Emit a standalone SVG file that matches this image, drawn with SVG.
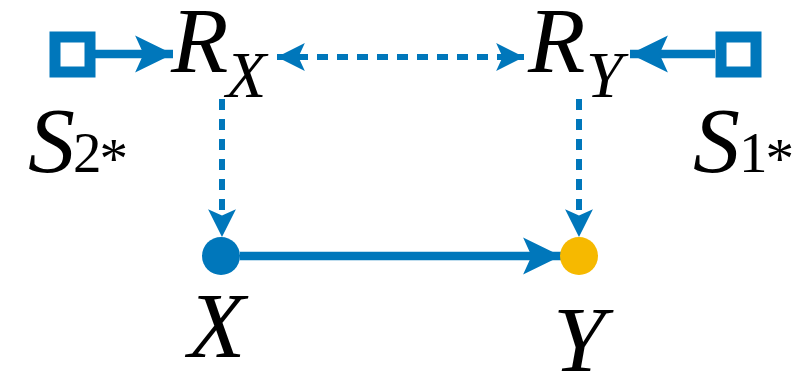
<svg xmlns="http://www.w3.org/2000/svg" width="807" height="374" viewBox="0 0 807 374">
<style>
text{font-family:'Liberation Serif','Times New Roman',Times,serif;fill:#000}
.m{font-style:italic;font-size:94px}
.s{font-size:57px}
.si{font-style:italic;font-size:66px}
.solid{stroke:#0077BB;stroke-width:8.5;fill:none}
.dash{stroke:#0077BB;stroke-width:6;fill:none;stroke-dasharray:11 9}
.src{stroke:#0077BB;stroke-width:11;fill:#fff}
</style>
<defs>
<marker id="ah" markerUnits="userSpaceOnUse" markerWidth="40" markerHeight="40" viewBox="-37 -19 38 38" refX="0" refY="0" orient="auto">
<path d="M0,0 L-36,-17.5 L-28,0 L-36,17.5 Z" fill="#0077BB"/>
</marker>
<marker id="dh" markerUnits="userSpaceOnUse" markerWidth="30" markerHeight="30" viewBox="-27 -14 28 28" refX="0" refY="0" orient="auto-start-reverse">
<path d="M0,0 L-26,-13 L-20,0 L-26,13 Z" fill="#0077BB"/>
</marker>
</defs>
<g id="connectors">
<line class="solid" x1="95" y1="54" x2="173" y2="54" marker-end="url(#ah)"/>
<line class="solid" x1="715" y1="54" x2="630" y2="54" marker-end="url(#ah)"/>
<line class="dash" x1="277" y1="57" x2="524" y2="57" marker-start="url(#dh)" marker-end="url(#dh)"/>
<line class="dash" x1="222" y1="99" x2="222" y2="237" marker-end="url(#dh)"/>
<line class="dash" x1="579" y1="99" x2="579" y2="237" marker-end="url(#dh)"/>
<line class="solid" x1="240" y1="256" x2="561" y2="256" marker-end="url(#ah)"/>
</g>
<g id="S2">
<rect class="src" x="55" y="37" width="35" height="35"/>
<text class="m" x="28" y="172">S</text>
<text class="s" x="73" y="172">2<tspan dx="-2" dy="6">*</tspan></text>
</g>
<g id="S1">
<rect class="src" x="721" y="37" width="35" height="35"/>
<text class="m" x="693" y="172">S</text>
<text class="s" x="739" y="172">1<tspan dx="-2" dy="6">*</tspan></text>
</g>
<g id="RX">
<text class="m" x="171" y="72">R</text>
<text class="si" x="226" y="97">X</text>
</g>
<g id="RY">
<text class="m" x="528" y="72">R</text>
<text class="si" x="586" y="97">Y</text>
</g>
<g id="X">
<circle cx="221" cy="256" r="19" fill="#0077BB"/>
<text class="m" x="188" y="357">X</text>
</g>
<g id="Y">
<circle cx="579" cy="256" r="19" fill="#F6B900"/>
<text class="m" x="553" y="371">Y</text>
</g>
</svg>
